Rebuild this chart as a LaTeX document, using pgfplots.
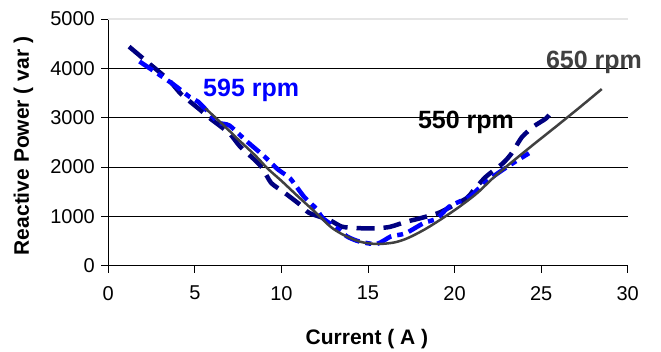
\documentclass[border=0pt]{standalone}
\usepackage{pgfplots}
\pgfplotsset{compat=1.18}
\usepackage{fontspec}
\setmainfont{Liberation Sans}
\definecolor{navyc}{RGB}{0,0,128}
\definecolor{bluec}{RGB}{0,0,255}
\definecolor{grayc}{RGB}{64,64,64}
\begin{document}
\begin{tikzpicture}
\begin{axis}[
  at={(0pt,0pt)}, anchor=south west,
  scale only axis, width=519.4pt, height=246.7pt,
  xmin=0, xmax=30, ymin=0, ymax=5000,
  xtick={0,5,10,15,20,25,30}, ytick={0,1000,2000,3000,4000,5000},
  axis x line*=bottom, axis y line*=left,
  axis line style={line width=0.9pt, black, -},
  tick style={line width=0.9pt, black},
  tick align=outside, major tick length=7pt,
  ymajorgrids, grid style={black, line width=0.9pt},
  tick label style={font=\fontsize{20}{24}\selectfont},
  /pgf/number format/assume math mode=true,
  scaled y ticks=false, yticklabel style={/pgf/number format/1000 sep={}, xshift=-3pt},
  xticklabel style={yshift=-10pt},
  xlabel={\bfseries Current ( A )},
  ylabel={\bfseries Reactive Power ( var )},
  label style={font=\fontsize{21}{25}\selectfont},
  xlabel style={at={(axis description cs:0.498,-0.297)}, anchor=center},
  ylabel style={at={(axis description cs:-0.1633,0.485)}, anchor=center},
  clip=false,
]
\draw[gray!20, line width=1.4pt] (axis cs:0,5000) -- (axis cs:30,5000);
% 550 rpm
\addplot[navyc, line width=4.5pt, dash pattern=on 18pt off 9pt, smooth, tension=0.4] coordinates {
(1.2,4440)(2.3,4115)(3.5,3760)(4.2,3480)(5.3,3160)(5.9,2980)(7,2680)(7.6,2420)(8.5,2130)(8.9,1980)(9.4,1680)(10.1,1500)(11.1,1230)(11.6,1070)(12.8,920)(13.5,790)(14.5,760)(15.6,760)(16.3,790)(17.2,890)(18,960)(19,1060)(19.6,1160)(20.7,1370)(21.1,1530)(21.8,1800)(22.8,2080)(23.3,2280)(23.9,2610)(24.6,2830)(25.3,2990)(25.7,3170)
};
% 595 rpm
\addplot[bluec, line width=4.5pt, dash pattern=on 16pt off 6pt on 6pt off 6pt, smooth, tension=0.4] coordinates {
(1.8,4140)(3.7,3690)(4.7,3420)(5.2,3320)(6.1,2990)(6.4,2890)(7,2840)(8,2520)(9,2220)(9.8,1950)(10.5,1770)(11.3,1400)(12,1160)(12.4,960)(13.2,760)(13.8,590)(14.5,490)(15.5,440)(16.3,590)(16.7,620)(17.2,660)(18.2,860)(19,960)(19.7,1200)(20.9,1400)(21.3,1535)(22.2,1800)(23.2,2040)(24.3,2280)
};
% 650 rpm
\addplot[grayc, line width=2.5pt, smooth, tension=0.5] coordinates {
(5.6,3190)(6.5,2900)(7.5,2560)(8.5,2230)(9.2,1970)(10,1720)(11,1390)(12,1070)(12.8,800)(13.5,640)(14.5,490)(15.5,440)(16.5,470)(17.3,560)(18.3,740)(19.3,960)(20.3,1200)(21.3,1470)(22.2,1770)(23.1,2040)(24.5,2440)(26,2860)(27.3,3230)(28.5,3580)
};
\node[anchor=base west, inner sep=0pt, text=bluec, font=\bfseries\fontsize{25}{29}\selectfont] at (axis cs:5.47,3426) {595 rpm};
\node[anchor=base west, inner sep=0pt, text=black, font=\bfseries\fontsize{25}{29}\selectfont] at (axis cs:17.88,2785) {550 rpm};
\node[anchor=base west, inner sep=0pt, text=grayc, font=\bfseries\fontsize{25}{29}\selectfont] at (axis cs:25.27,4002) {650 rpm};
\end{axis}
\pgfresetboundingbox
\path[use as bounding box] (-108.3pt,-85.3pt) rectangle (552.7pt,265.7pt);
\end{tikzpicture}
\end{document}
